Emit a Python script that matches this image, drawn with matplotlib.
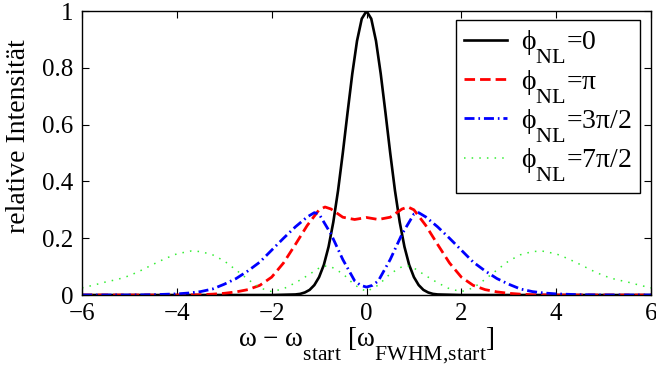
import matplotlib
matplotlib.use("Agg")
import matplotlib.pyplot as plt
import matplotlib._mathtext as mathtext_internals

# ----------------------------------------------------------------
# Spectra after self-phase modulation (normalised intensity)
# ----------------------------------------------------------------
x_phi0 = [-6, -2, -1.5, -1.4, -1.3, -1.2, -1.1, -1.0, -0.9, -0.8, -0.7, -0.6,
          -0.5, -0.4, -0.3, -0.2, -0.1, 0.0, 0.1, 0.2, 0.3, 0.4, 0.5, 0.6,
          0.7, 0.8, 0.9, 1.0, 1.1, 1.2, 1.3, 1.4, 1.5, 2, 6]
y_phi0 = [0, 0, 0.002, 0.004, 0.009, 0.018, 0.035, 0.063, 0.106, 0.170, 0.257, 0.368,
          0.500, 0.642, 0.779, 0.895, 0.973, 1.000, 0.973, 0.895, 0.779, 0.642, 0.500, 0.368,
          0.257, 0.170, 0.106, 0.063, 0.035, 0.018, 0.009, 0.004, 0.002, 0, 0]

x_pi = [-6, -4, -3.5, -3.25, -3.0, -2.75, -2.5, -2.25, -2.0, -1.75, -1.5, -1.25,
        -1.0, -0.875, -0.75, -0.5, -0.25, 0.0, 0.25, 0.5, 0.75, 0.875, 1.0,
        1.25, 1.5, 1.75, 2.0, 2.25, 2.5, 2.75, 3.0, 3.25, 3.5, 4, 6]
y_pi = [0, 0, 0.001, 0.003, 0.006, 0.011, 0.019, 0.034, 0.063, 0.113, 0.178, 0.245,
        0.300, 0.310, 0.303, 0.274, 0.266, 0.273, 0.266, 0.274, 0.303, 0.310, 0.300,
        0.245, 0.178, 0.113, 0.063, 0.034, 0.019, 0.011, 0.006, 0.003, 0.001, 0, 0]

x_3pi2 = [-6, -5, -4.5, -4.0, -3.75, -3.5, -3.25, -3.0, -2.75, -2.5, -2.25, -2.0,
          -1.75, -1.5, -1.25, -1.1, -1.0, -0.75, -0.5, -0.25, -0.125, 0.0,
          0.125, 0.25, 0.5, 0.75, 1.0, 1.1, 1.25, 1.5, 1.75, 2.0, 2.25, 2.5,
          2.75, 3.0, 3.25, 3.5, 3.75, 4.0, 4.5, 5, 6]
y_3pi2 = [0, 0, 0.001, 0.004, 0.007, 0.012, 0.021, 0.038, 0.058, 0.085, 0.116, 0.158,
          0.200, 0.240, 0.275, 0.290, 0.285, 0.215, 0.125, 0.050, 0.034, 0.028,
          0.034, 0.050, 0.125, 0.215, 0.285, 0.290, 0.275, 0.240, 0.200, 0.158, 0.116, 0.085,
          0.058, 0.038, 0.021, 0.012, 0.007, 0.004, 0.001, 0, 0]

x_7pi2 = [-6.0, -5.75, -5.5, -5.25, -5.0, -4.75, -4.5, -4.25, -4.0, -3.7, -3.5, -3.25,
          -3.0, -2.75, -2.5, -2.25, -2.0, -1.75, -1.5, -1.25, -1.0, -0.875, -0.75,
          -0.5, -0.25, 0.0, 0.25, 0.5, 0.75, 0.875, 1.0, 1.25, 1.5, 1.75, 2.0, 2.25,
          2.5, 2.75, 3.0, 3.25, 3.5, 3.7, 4.0, 4.25, 4.5, 4.75, 5.0, 5.25, 5.5, 5.75, 6.0]
y_7pi2 = [0.025, 0.035, 0.046, 0.055, 0.068, 0.087, 0.108, 0.128, 0.145, 0.155, 0.153, 0.142,
          0.120, 0.088, 0.055, 0.025, 0.012, 0.022, 0.043, 0.068, 0.095, 0.102, 0.100,
          0.075, 0.035, 0.012, 0.035, 0.075, 0.100, 0.102, 0.095, 0.068, 0.043, 0.022, 0.012, 0.025,
          0.055, 0.088, 0.120, 0.142, 0.153, 0.155, 0.145, 0.128, 0.108, 0.087, 0.068, 0.055, 0.046, 0.035, 0.025]

labels = ["ϕ$_{\\mathrm{NL}}$=0", "ϕ$_{\\mathrm{NL}}$=π",
          "ϕ$_{\\mathrm{NL}}$=3π/2", "ϕ$_{\\mathrm{NL}}$=7π/2"]
x_ticks = [-6, -4, -2, 0, 2, 4, 6]
y_ticks = [0, 0.2, 0.4, 0.6, 0.8, 1]
y_ticklabels = ["0", "0.2", "0.4", "0.6", "0.8", "1"]

# ----------------------------------------------------------------
# Style -- larger, deeper subscripts than the mathtext defaults
# ----------------------------------------------------------------
mathtext_internals.SHRINK_FACTOR = 0.8
mathtext_internals.FontConstantsBase.sub1 = 1.15

plt.rcParams.update({
    "font.family":        ["Liberation Serif", "DejaVu Serif"],
    "font.size":          18,
    "mathtext.fontset":   "custom",
    "mathtext.rm":        "Liberation Serif",
    "mathtext.it":        "Liberation Serif:italic",
    "axes.linewidth":     1.0,
    "xtick.direction":    "in",
    "ytick.direction":    "in",
    "xtick.top":          True,
    "ytick.right":        True,
    "xtick.major.size":   5,
    "ytick.major.size":   5,
    "axes.unicode_minus": True,
})

fig = plt.figure(figsize=(6.56, 3.69), dpi=100)
ax = fig.add_axes([0.125, 0.2005, 0.8674, 0.7695])

ax.plot(x_phi0, y_phi0, color="black", lw=1.9, linestyle="-", label=labels[0])
ax.plot(x_pi, y_pi, color="#ff0000", lw=2.0, linestyle=(0, (3.8, 1.8)), label=labels[1])
ax.plot(x_3pi2, y_3pi2, color="#0000ff", lw=2.0, linestyle=(0, (3.6, 1.4, 0.6, 1.4)),
        label=labels[2])
ax.plot(x_7pi2, y_7pi2, color="#33ee33", lw=1.1, linestyle=(0, (1, 4)), label=labels[3])

ax.set_xlim(-6, 6)
ax.set_ylim(0, 1)
ax.set_xticks(x_ticks)
ax.set_yticks(y_ticks)
ax.set_yticklabels(y_ticklabels)
ax.tick_params(pad=6)

ax.set_xlabel("ω − ω$_{\\mathrm{start}}$ [ω$_{\\mathrm{FWHM{,}start}}$]", fontsize=19.5, labelpad=0)
ax.set_ylabel("relative Intensität", fontsize=20)
ax.yaxis.set_label_coords(-0.09, 0.56)

leg = ax.legend(loc="upper right", bbox_to_anchor=(0.981, 0.968), borderaxespad=0,
                frameon=True, fancybox=False, edgecolor="black", framealpha=1,
                handlelength=1.55, handletextpad=0.5, labelspacing=0.05,
                borderpad=0.3, fontsize=20)
leg.get_frame().set_linewidth(1.0)

fig.savefig("out.png", dpi=100)
